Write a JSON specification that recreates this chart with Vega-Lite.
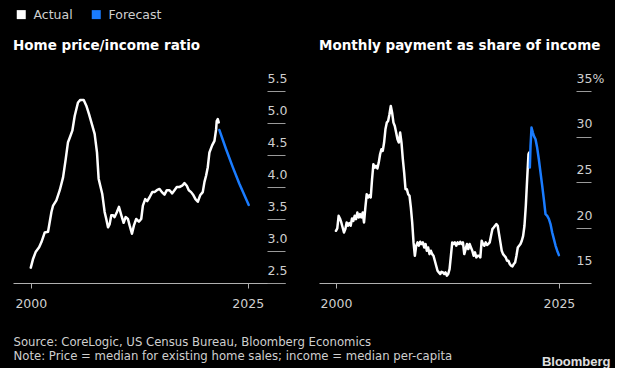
{
  "$schema": "https://vega.github.io/schema/vega-lite/v6.json",
  "background": "black",
  "padding": {"left": 13, "top": 8, "right": 5, "bottom": 0},
  "bounds": "flush",
  "spacing": 34,
  "datasets": {
    "hp": [
      {"year": 2000.00, "v": 2.74, "series": "Actual"},
      {"year": 2000.27, "v": 2.88, "series": "Actual"},
      {"year": 2000.58, "v": 2.99, "series": "Actual"},
      {"year": 2000.96, "v": 3.06, "series": "Actual"},
      {"year": 2001.23, "v": 3.14, "series": "Actual"},
      {"year": 2001.61, "v": 3.29, "series": "Actual"},
      {"year": 2001.99, "v": 3.30, "series": "Actual"},
      {"year": 2002.38, "v": 3.61, "series": "Actual"},
      {"year": 2002.57, "v": 3.71, "series": "Actual"},
      {"year": 2002.95, "v": 3.79, "series": "Actual"},
      {"year": 2003.34, "v": 3.95, "series": "Actual"},
      {"year": 2003.72, "v": 4.15, "series": "Actual"},
      {"year": 2004.03, "v": 4.44, "series": "Actual"},
      {"year": 2004.29, "v": 4.70, "series": "Actual"},
      {"year": 2004.49, "v": 4.77, "series": "Actual"},
      {"year": 2004.79, "v": 4.88, "series": "Actual"},
      {"year": 2005.06, "v": 5.11, "series": "Actual"},
      {"year": 2005.44, "v": 5.32, "series": "Actual"},
      {"year": 2005.71, "v": 5.36, "series": "Actual"},
      {"year": 2006.10, "v": 5.36, "series": "Actual"},
      {"year": 2006.40, "v": 5.27, "series": "Actual"},
      {"year": 2006.71, "v": 5.14, "series": "Actual"},
      {"year": 2007.09, "v": 4.96, "series": "Actual"},
      {"year": 2007.36, "v": 4.83, "series": "Actual"},
      {"year": 2007.63, "v": 4.54, "series": "Actual"},
      {"year": 2007.82, "v": 4.13, "series": "Actual"},
      {"year": 2008.01, "v": 4.02, "series": "Actual"},
      {"year": 2008.24, "v": 3.89, "series": "Actual"},
      {"year": 2008.51, "v": 3.61, "series": "Actual"},
      {"year": 2008.70, "v": 3.50, "series": "Actual"},
      {"year": 2008.90, "v": 3.37, "series": "Actual"},
      {"year": 2009.09, "v": 3.42, "series": "Actual"},
      {"year": 2009.28, "v": 3.56, "series": "Actual"},
      {"year": 2009.47, "v": 3.56, "series": "Actual"},
      {"year": 2009.66, "v": 3.53, "series": "Actual"},
      {"year": 2009.93, "v": 3.61, "series": "Actual"},
      {"year": 2010.16, "v": 3.69, "series": "Actual"},
      {"year": 2010.43, "v": 3.56, "series": "Actual"},
      {"year": 2010.70, "v": 3.44, "series": "Actual"},
      {"year": 2010.93, "v": 3.53, "series": "Actual"},
      {"year": 2011.20, "v": 3.50, "series": "Actual"},
      {"year": 2011.39, "v": 3.40, "series": "Actual"},
      {"year": 2011.66, "v": 3.27, "series": "Actual"},
      {"year": 2011.89, "v": 3.40, "series": "Actual"},
      {"year": 2012.15, "v": 3.50, "series": "Actual"},
      {"year": 2012.46, "v": 3.46, "series": "Actual"},
      {"year": 2012.73, "v": 3.50, "series": "Actual"},
      {"year": 2012.92, "v": 3.71, "series": "Actual"},
      {"year": 2013.19, "v": 3.81, "series": "Actual"},
      {"year": 2013.42, "v": 3.78, "series": "Actual"},
      {"year": 2013.69, "v": 3.84, "series": "Actual"},
      {"year": 2014.00, "v": 3.92, "series": "Actual"},
      {"year": 2014.26, "v": 3.92, "series": "Actual"},
      {"year": 2014.53, "v": 3.95, "series": "Actual"},
      {"year": 2014.84, "v": 3.97, "series": "Actual"},
      {"year": 2015.11, "v": 3.92, "series": "Actual"},
      {"year": 2015.41, "v": 3.88, "series": "Actual"},
      {"year": 2015.68, "v": 3.95, "series": "Actual"},
      {"year": 2015.99, "v": 3.95, "series": "Actual"},
      {"year": 2016.30, "v": 3.90, "series": "Actual"},
      {"year": 2016.56, "v": 3.95, "series": "Actual"},
      {"year": 2016.83, "v": 4.00, "series": "Actual"},
      {"year": 2017.14, "v": 4.00, "series": "Actual"},
      {"year": 2017.45, "v": 4.02, "series": "Actual"},
      {"year": 2017.71, "v": 4.06, "series": "Actual"},
      {"year": 2017.98, "v": 4.02, "series": "Actual"},
      {"year": 2018.21, "v": 3.95, "series": "Actual"},
      {"year": 2018.48, "v": 3.92, "series": "Actual"},
      {"year": 2018.75, "v": 3.87, "series": "Actual"},
      {"year": 2018.98, "v": 3.81, "series": "Actual"},
      {"year": 2019.25, "v": 3.77, "series": "Actual"},
      {"year": 2019.52, "v": 3.87, "series": "Actual"},
      {"year": 2019.82, "v": 3.92, "series": "Actual"},
      {"year": 2020.02, "v": 4.08, "series": "Actual"},
      {"year": 2020.21, "v": 4.18, "series": "Actual"},
      {"year": 2020.40, "v": 4.31, "series": "Actual"},
      {"year": 2020.59, "v": 4.54, "series": "Actual"},
      {"year": 2020.90, "v": 4.65, "series": "Actual"},
      {"year": 2021.17, "v": 4.72, "series": "Actual"},
      {"year": 2021.36, "v": 4.90, "series": "Actual"},
      {"year": 2021.43, "v": 5.03, "series": "Actual"},
      {"year": 2021.55, "v": 5.06, "series": "Actual"},
      {"year": 2021.66, "v": 5.01, "series": "Actual"},
      {"year": 2021.74, "v": 4.89, "series": "Forecast"},
      {"year": 2022.51, "v": 4.59, "series": "Forecast"},
      {"year": 2023.28, "v": 4.31, "series": "Forecast"},
      {"year": 2024.04, "v": 4.05, "series": "Forecast"},
      {"year": 2025.12, "v": 3.72, "series": "Forecast"}
    ],
    "pay": [
      {"year": 2000.00, "v": 19.71, "series": "Actual"},
      {"year": 2000.15, "v": 19.97, "series": "Actual"},
      {"year": 2000.30, "v": 21.35, "series": "Actual"},
      {"year": 2000.45, "v": 21.06, "series": "Actual"},
      {"year": 2000.60, "v": 20.62, "series": "Actual"},
      {"year": 2000.75, "v": 20.07, "series": "Actual"},
      {"year": 2000.90, "v": 19.53, "series": "Actual"},
      {"year": 2001.05, "v": 19.89, "series": "Actual"},
      {"year": 2001.20, "v": 20.62, "series": "Actual"},
      {"year": 2001.35, "v": 20.26, "series": "Actual"},
      {"year": 2001.50, "v": 20.55, "series": "Actual"},
      {"year": 2001.65, "v": 20.26, "series": "Actual"},
      {"year": 2001.80, "v": 21.06, "series": "Actual"},
      {"year": 2001.95, "v": 20.80, "series": "Actual"},
      {"year": 2002.10, "v": 21.35, "series": "Actual"},
      {"year": 2002.25, "v": 20.98, "series": "Actual"},
      {"year": 2002.40, "v": 21.71, "series": "Actual"},
      {"year": 2002.55, "v": 21.17, "series": "Actual"},
      {"year": 2002.70, "v": 21.53, "series": "Actual"},
      {"year": 2002.85, "v": 21.17, "series": "Actual"},
      {"year": 2003.00, "v": 21.71, "series": "Actual"},
      {"year": 2003.15, "v": 20.62, "series": "Actual"},
      {"year": 2003.30, "v": 22.26, "series": "Actual"},
      {"year": 2003.45, "v": 23.71, "series": "Actual"},
      {"year": 2003.60, "v": 23.35, "series": "Actual"},
      {"year": 2003.75, "v": 23.60, "series": "Actual"},
      {"year": 2003.90, "v": 23.35, "series": "Actual"},
      {"year": 2004.05, "v": 25.35, "series": "Actual"},
      {"year": 2004.20, "v": 26.99, "series": "Actual"},
      {"year": 2004.35, "v": 26.62, "series": "Actual"},
      {"year": 2004.50, "v": 26.81, "series": "Actual"},
      {"year": 2004.65, "v": 26.52, "series": "Actual"},
      {"year": 2004.80, "v": 27.17, "series": "Actual"},
      {"year": 2004.95, "v": 28.08, "series": "Actual"},
      {"year": 2005.10, "v": 28.63, "series": "Actual"},
      {"year": 2005.25, "v": 28.45, "series": "Actual"},
      {"year": 2005.40, "v": 29.36, "series": "Actual"},
      {"year": 2005.55, "v": 30.81, "series": "Actual"},
      {"year": 2005.70, "v": 31.54, "series": "Actual"},
      {"year": 2005.85, "v": 31.72, "series": "Actual"},
      {"year": 2006.00, "v": 32.45, "series": "Actual"},
      {"year": 2006.15, "v": 33.36, "series": "Actual"},
      {"year": 2006.30, "v": 32.63, "series": "Actual"},
      {"year": 2006.45, "v": 31.54, "series": "Actual"},
      {"year": 2006.60, "v": 31.18, "series": "Actual"},
      {"year": 2006.75, "v": 30.45, "series": "Actual"},
      {"year": 2006.90, "v": 29.72, "series": "Actual"},
      {"year": 2007.05, "v": 29.36, "series": "Actual"},
      {"year": 2007.20, "v": 30.45, "series": "Actual"},
      {"year": 2007.35, "v": 29.36, "series": "Actual"},
      {"year": 2007.50, "v": 27.54, "series": "Actual"},
      {"year": 2007.65, "v": 26.08, "series": "Actual"},
      {"year": 2007.80, "v": 24.26, "series": "Actual"},
      {"year": 2007.95, "v": 24.26, "series": "Actual"},
      {"year": 2008.10, "v": 23.71, "series": "Actual"},
      {"year": 2008.25, "v": 23.53, "series": "Actual"},
      {"year": 2008.40, "v": 22.26, "series": "Actual"},
      {"year": 2008.55, "v": 20.62, "series": "Actual"},
      {"year": 2008.70, "v": 18.44, "series": "Actual"},
      {"year": 2008.85, "v": 16.98, "series": "Actual"},
      {"year": 2009.00, "v": 18.08, "series": "Actual"},
      {"year": 2009.15, "v": 18.44, "series": "Actual"},
      {"year": 2009.30, "v": 18.08, "series": "Actual"},
      {"year": 2009.45, "v": 18.51, "series": "Actual"},
      {"year": 2009.60, "v": 18.26, "series": "Actual"},
      {"year": 2009.75, "v": 18.44, "series": "Actual"},
      {"year": 2009.90, "v": 17.89, "series": "Actual"},
      {"year": 2010.05, "v": 18.26, "series": "Actual"},
      {"year": 2010.19, "v": 17.53, "series": "Actual"},
      {"year": 2010.34, "v": 17.89, "series": "Actual"},
      {"year": 2010.49, "v": 17.16, "series": "Actual"},
      {"year": 2010.64, "v": 17.53, "series": "Actual"},
      {"year": 2010.79, "v": 17.16, "series": "Actual"},
      {"year": 2010.94, "v": 16.98, "series": "Actual"},
      {"year": 2011.09, "v": 16.43, "series": "Actual"},
      {"year": 2011.24, "v": 15.89, "series": "Actual"},
      {"year": 2011.39, "v": 15.34, "series": "Actual"},
      {"year": 2011.54, "v": 15.16, "series": "Actual"},
      {"year": 2011.69, "v": 14.98, "series": "Actual"},
      {"year": 2011.84, "v": 15.23, "series": "Actual"},
      {"year": 2011.99, "v": 15.16, "series": "Actual"},
      {"year": 2012.14, "v": 14.98, "series": "Actual"},
      {"year": 2012.29, "v": 15.16, "series": "Actual"},
      {"year": 2012.44, "v": 14.80, "series": "Actual"},
      {"year": 2012.59, "v": 14.98, "series": "Actual"},
      {"year": 2012.74, "v": 15.52, "series": "Actual"},
      {"year": 2012.89, "v": 16.98, "series": "Actual"},
      {"year": 2013.04, "v": 18.44, "series": "Actual"},
      {"year": 2013.19, "v": 18.26, "series": "Actual"},
      {"year": 2013.34, "v": 18.44, "series": "Actual"},
      {"year": 2013.49, "v": 18.08, "series": "Actual"},
      {"year": 2013.64, "v": 18.44, "series": "Actual"},
      {"year": 2013.79, "v": 18.26, "series": "Actual"},
      {"year": 2013.94, "v": 18.51, "series": "Actual"},
      {"year": 2014.09, "v": 18.26, "series": "Actual"},
      {"year": 2014.24, "v": 18.44, "series": "Actual"},
      {"year": 2014.39, "v": 17.16, "series": "Actual"},
      {"year": 2014.54, "v": 17.71, "series": "Actual"},
      {"year": 2014.69, "v": 18.26, "series": "Actual"},
      {"year": 2014.84, "v": 17.71, "series": "Actual"},
      {"year": 2014.99, "v": 18.26, "series": "Actual"},
      {"year": 2015.14, "v": 17.89, "series": "Actual"},
      {"year": 2015.29, "v": 17.53, "series": "Actual"},
      {"year": 2015.44, "v": 16.98, "series": "Actual"},
      {"year": 2015.59, "v": 17.35, "series": "Actual"},
      {"year": 2015.74, "v": 16.80, "series": "Actual"},
      {"year": 2015.89, "v": 16.98, "series": "Actual"},
      {"year": 2016.04, "v": 16.98, "series": "Actual"},
      {"year": 2016.19, "v": 16.80, "series": "Actual"},
      {"year": 2016.34, "v": 18.62, "series": "Actual"},
      {"year": 2016.49, "v": 18.26, "series": "Actual"},
      {"year": 2016.64, "v": 18.08, "series": "Actual"},
      {"year": 2016.79, "v": 18.44, "series": "Actual"},
      {"year": 2016.94, "v": 18.15, "series": "Actual"},
      {"year": 2017.09, "v": 18.26, "series": "Actual"},
      {"year": 2017.24, "v": 18.44, "series": "Actual"},
      {"year": 2017.39, "v": 19.16, "series": "Actual"},
      {"year": 2017.54, "v": 19.89, "series": "Actual"},
      {"year": 2017.69, "v": 20.07, "series": "Actual"},
      {"year": 2017.84, "v": 20.26, "series": "Actual"},
      {"year": 2017.99, "v": 20.44, "series": "Actual"},
      {"year": 2018.14, "v": 20.26, "series": "Actual"},
      {"year": 2018.29, "v": 19.35, "series": "Actual"},
      {"year": 2018.44, "v": 18.44, "series": "Actual"},
      {"year": 2018.59, "v": 17.53, "series": "Actual"},
      {"year": 2018.74, "v": 17.16, "series": "Actual"},
      {"year": 2018.89, "v": 16.98, "series": "Actual"},
      {"year": 2019.04, "v": 16.80, "series": "Actual"},
      {"year": 2019.19, "v": 16.43, "series": "Actual"},
      {"year": 2019.34, "v": 16.43, "series": "Actual"},
      {"year": 2019.49, "v": 16.07, "series": "Actual"},
      {"year": 2019.64, "v": 15.89, "series": "Actual"},
      {"year": 2019.79, "v": 15.82, "series": "Actual"},
      {"year": 2019.94, "v": 16.07, "series": "Actual"},
      {"year": 2020.09, "v": 16.25, "series": "Actual"},
      {"year": 2020.24, "v": 16.98, "series": "Actual"},
      {"year": 2020.39, "v": 17.89, "series": "Actual"},
      {"year": 2020.54, "v": 18.08, "series": "Actual"},
      {"year": 2020.69, "v": 18.26, "series": "Actual"},
      {"year": 2020.84, "v": 18.62, "series": "Actual"},
      {"year": 2020.99, "v": 19.16, "series": "Actual"},
      {"year": 2021.14, "v": 20.26, "series": "Actual"},
      {"year": 2021.29, "v": 22.44, "series": "Actual"},
      {"year": 2021.44, "v": 25.35, "series": "Actual"},
      {"year": 2021.59, "v": 28.08, "series": "Actual"},
      {"year": 2021.67, "v": 28.27, "series": "Actual"},
      {"year": 2021.74, "v": 26.63, "series": "Forecast"},
      {"year": 2021.82, "v": 28.99, "series": "Forecast"},
      {"year": 2021.93, "v": 31.00, "series": "Forecast"},
      {"year": 2022.08, "v": 30.45, "series": "Forecast"},
      {"year": 2022.19, "v": 30.09, "series": "Forecast"},
      {"year": 2022.38, "v": 29.72, "series": "Forecast"},
      {"year": 2022.56, "v": 28.81, "series": "Forecast"},
      {"year": 2022.75, "v": 27.54, "series": "Forecast"},
      {"year": 2022.94, "v": 26.08, "series": "Forecast"},
      {"year": 2023.13, "v": 24.63, "series": "Forecast"},
      {"year": 2023.31, "v": 23.17, "series": "Forecast"},
      {"year": 2023.50, "v": 21.53, "series": "Forecast"},
      {"year": 2023.69, "v": 21.35, "series": "Forecast"},
      {"year": 2023.88, "v": 21.00, "series": "Forecast"},
      {"year": 2024.06, "v": 20.44, "series": "Forecast"},
      {"year": 2024.25, "v": 19.53, "series": "Forecast"},
      {"year": 2024.44, "v": 18.80, "series": "Forecast"},
      {"year": 2024.63, "v": 18.07, "series": "Forecast"},
      {"year": 2024.81, "v": 17.53, "series": "Forecast"},
      {"year": 2025.00, "v": 17.05, "series": "Forecast"}
    ]
  },
  "hconcat": [
    {
      "width": 272,
      "height": 192,
      "data": {"name": "hp"},
      "title": {"text": "Home price/income ratio", "anchor": "start", "frame": "group", "font": "DejaVu Sans", "fontSize": 13.5, "fontWeight": "bold", "color": "#ffffff", "offset": 20},
      "mark": {"type": "line", "strokeWidth": 2.5, "strokeJoin": "round", "strokeCap": "round"},
      "encoding": {
        "x": {
          "field": "year", "type": "quantitative",
          "scale": {"domain": [1997.95, 2029.3], "nice": false, "zero": false},
          "axis": {
            "values": [2000, 2025], "format": "d", "grid": false, "labelFlush": false,
            "domainColor": "#b0b0b0", "tickColor": "#b0b0b0", "tickSize": 5, "labelPadding": 9,
            "labelColor": "#cfcfcf", "labelFont": "DejaVu Sans", "labelFontSize": 12.5,
            "title": ["Source: CoreLogic, US Census Bureau, Bloomberg Economics", "Note: Price = median for existing home sales; income = median per-capita"],
            "titleX": 0, "titleY": 62, "titleAlign": "left", "titleAnchor": "start", "titleBaseline": "alphabetic",
            "titleFont": "DejaVu Sans", "titleFontSize": 11.7, "titleFontWeight": "normal", "titleColor": "#cfcfcf", "titleLineHeight": 14
          }
        },
        "y": {
          "field": "v", "type": "quantitative",
          "scale": {"domain": [2.5, 5.5], "nice": false, "zero": false},
          "axis": {
            "orient": "right", "values": [2.5, 3, 3.5, 4, 4.5, 5, 5.5], "format": ".1f",
            "offset": -18, "tickSize": 18, "tickColor": "#9a9a9a", "domain": false, "grid": false,
            "labelPadding": -18, "labelAlign": "left", "labelBaseline": "alphabetic", "labelOffset": -9,
            "labelOverlap": false, "labelColor": "#cfcfcf", "labelFont": "DejaVu Sans", "labelFontSize": 12.5, "title": null
          }
        },
        "color": {
          "field": "series", "type": "nominal",
          "scale": {"domain": ["Actual", "Forecast"], "range": ["#ffffff", "#1a7cff"]},
          "legend": {
            "orient": "none", "legendX": 2, "legendY": -83, "direction": "horizontal", "title": null,
            "symbolType": "square", "symbolSize": 16, "symbolStrokeWidth": 5,
            "labelColor": "#cfcfcf", "labelFont": "DejaVu Sans", "labelFontSize": 12.5,
            "columnPadding": 11, "labelOffset": 6, "padding": 0
          }
        }
      }
    },
    {
      "width": 272,
      "height": 192,
      "data": {"name": "pay"},
      "title": {"text": "Monthly payment as share of income", "anchor": "start", "frame": "group", "font": "DejaVu Sans", "fontSize": 13.5, "fontWeight": "bold", "color": "#ffffff", "offset": 20},
      "mark": {"type": "line", "strokeWidth": 2.5, "strokeJoin": "round", "strokeCap": "round"},
      "encoding": {
        "x": {
          "field": "year", "type": "quantitative",
          "scale": {"domain": [1998.1, 2028.6], "nice": false, "zero": false},
          "axis": {
            "values": [2000, 2025], "format": "d", "grid": false, "labelFlush": false,
            "domainColor": "#b0b0b0", "tickColor": "#b0b0b0", "tickSize": 5, "labelPadding": 9,
            "labelColor": "#cfcfcf", "labelFont": "DejaVu Sans", "labelFontSize": 12.5,
            "title": "Bloomberg", "titleX": 291, "titleY": 82, "titleAlign": "right", "titleAnchor": "end", "titleBaseline": "alphabetic",
            "titleFont": "Liberation Sans", "titleFontSize": 13, "titleFontWeight": "bold", "titleColor": "#e0e0e0"
          }
        },
        "y": {
          "field": "v", "type": "quantitative",
          "scale": {"domain": [14, 35], "nice": false, "zero": false},
          "axis": {
            "orient": "right", "values": [15, 20, 25, 30, 35],
            "labelExpr": "datum.value == 35 ? datum.label + '%' : datum.label",
            "offset": -15, "tickSize": 15,
            "tickColor": {"condition": {"test": "datum.value == 15", "value": "transparent"}, "value": "#9a9a9a"},
            "domain": false, "grid": false,
            "labelPadding": -15, "labelAlign": "left", "labelBaseline": "alphabetic", "labelOffset": -9,
            "labelOverlap": false, "labelColor": "#cfcfcf", "labelFont": "DejaVu Sans", "labelFontSize": 12.5, "title": null
          }
        },
        "color": {
          "field": "series", "type": "nominal",
          "scale": {"domain": ["Actual", "Forecast"], "range": ["#ffffff", "#1a7cff"]},
          "legend": {
            "orient": "none", "legendX": 2, "legendY": -83, "direction": "horizontal", "title": null,
            "symbolType": "square", "symbolSize": 16, "symbolStrokeWidth": 5,
            "labelColor": "#cfcfcf", "labelFont": "DejaVu Sans", "labelFontSize": 12.5,
            "columnPadding": 11, "labelOffset": 6, "padding": 0
          }
        }
      }
    }
  ],
  "config": {
    "view": {"stroke": null},
    "axis": {"domainWidth": 1, "tickWidth": 1}
  }
}
